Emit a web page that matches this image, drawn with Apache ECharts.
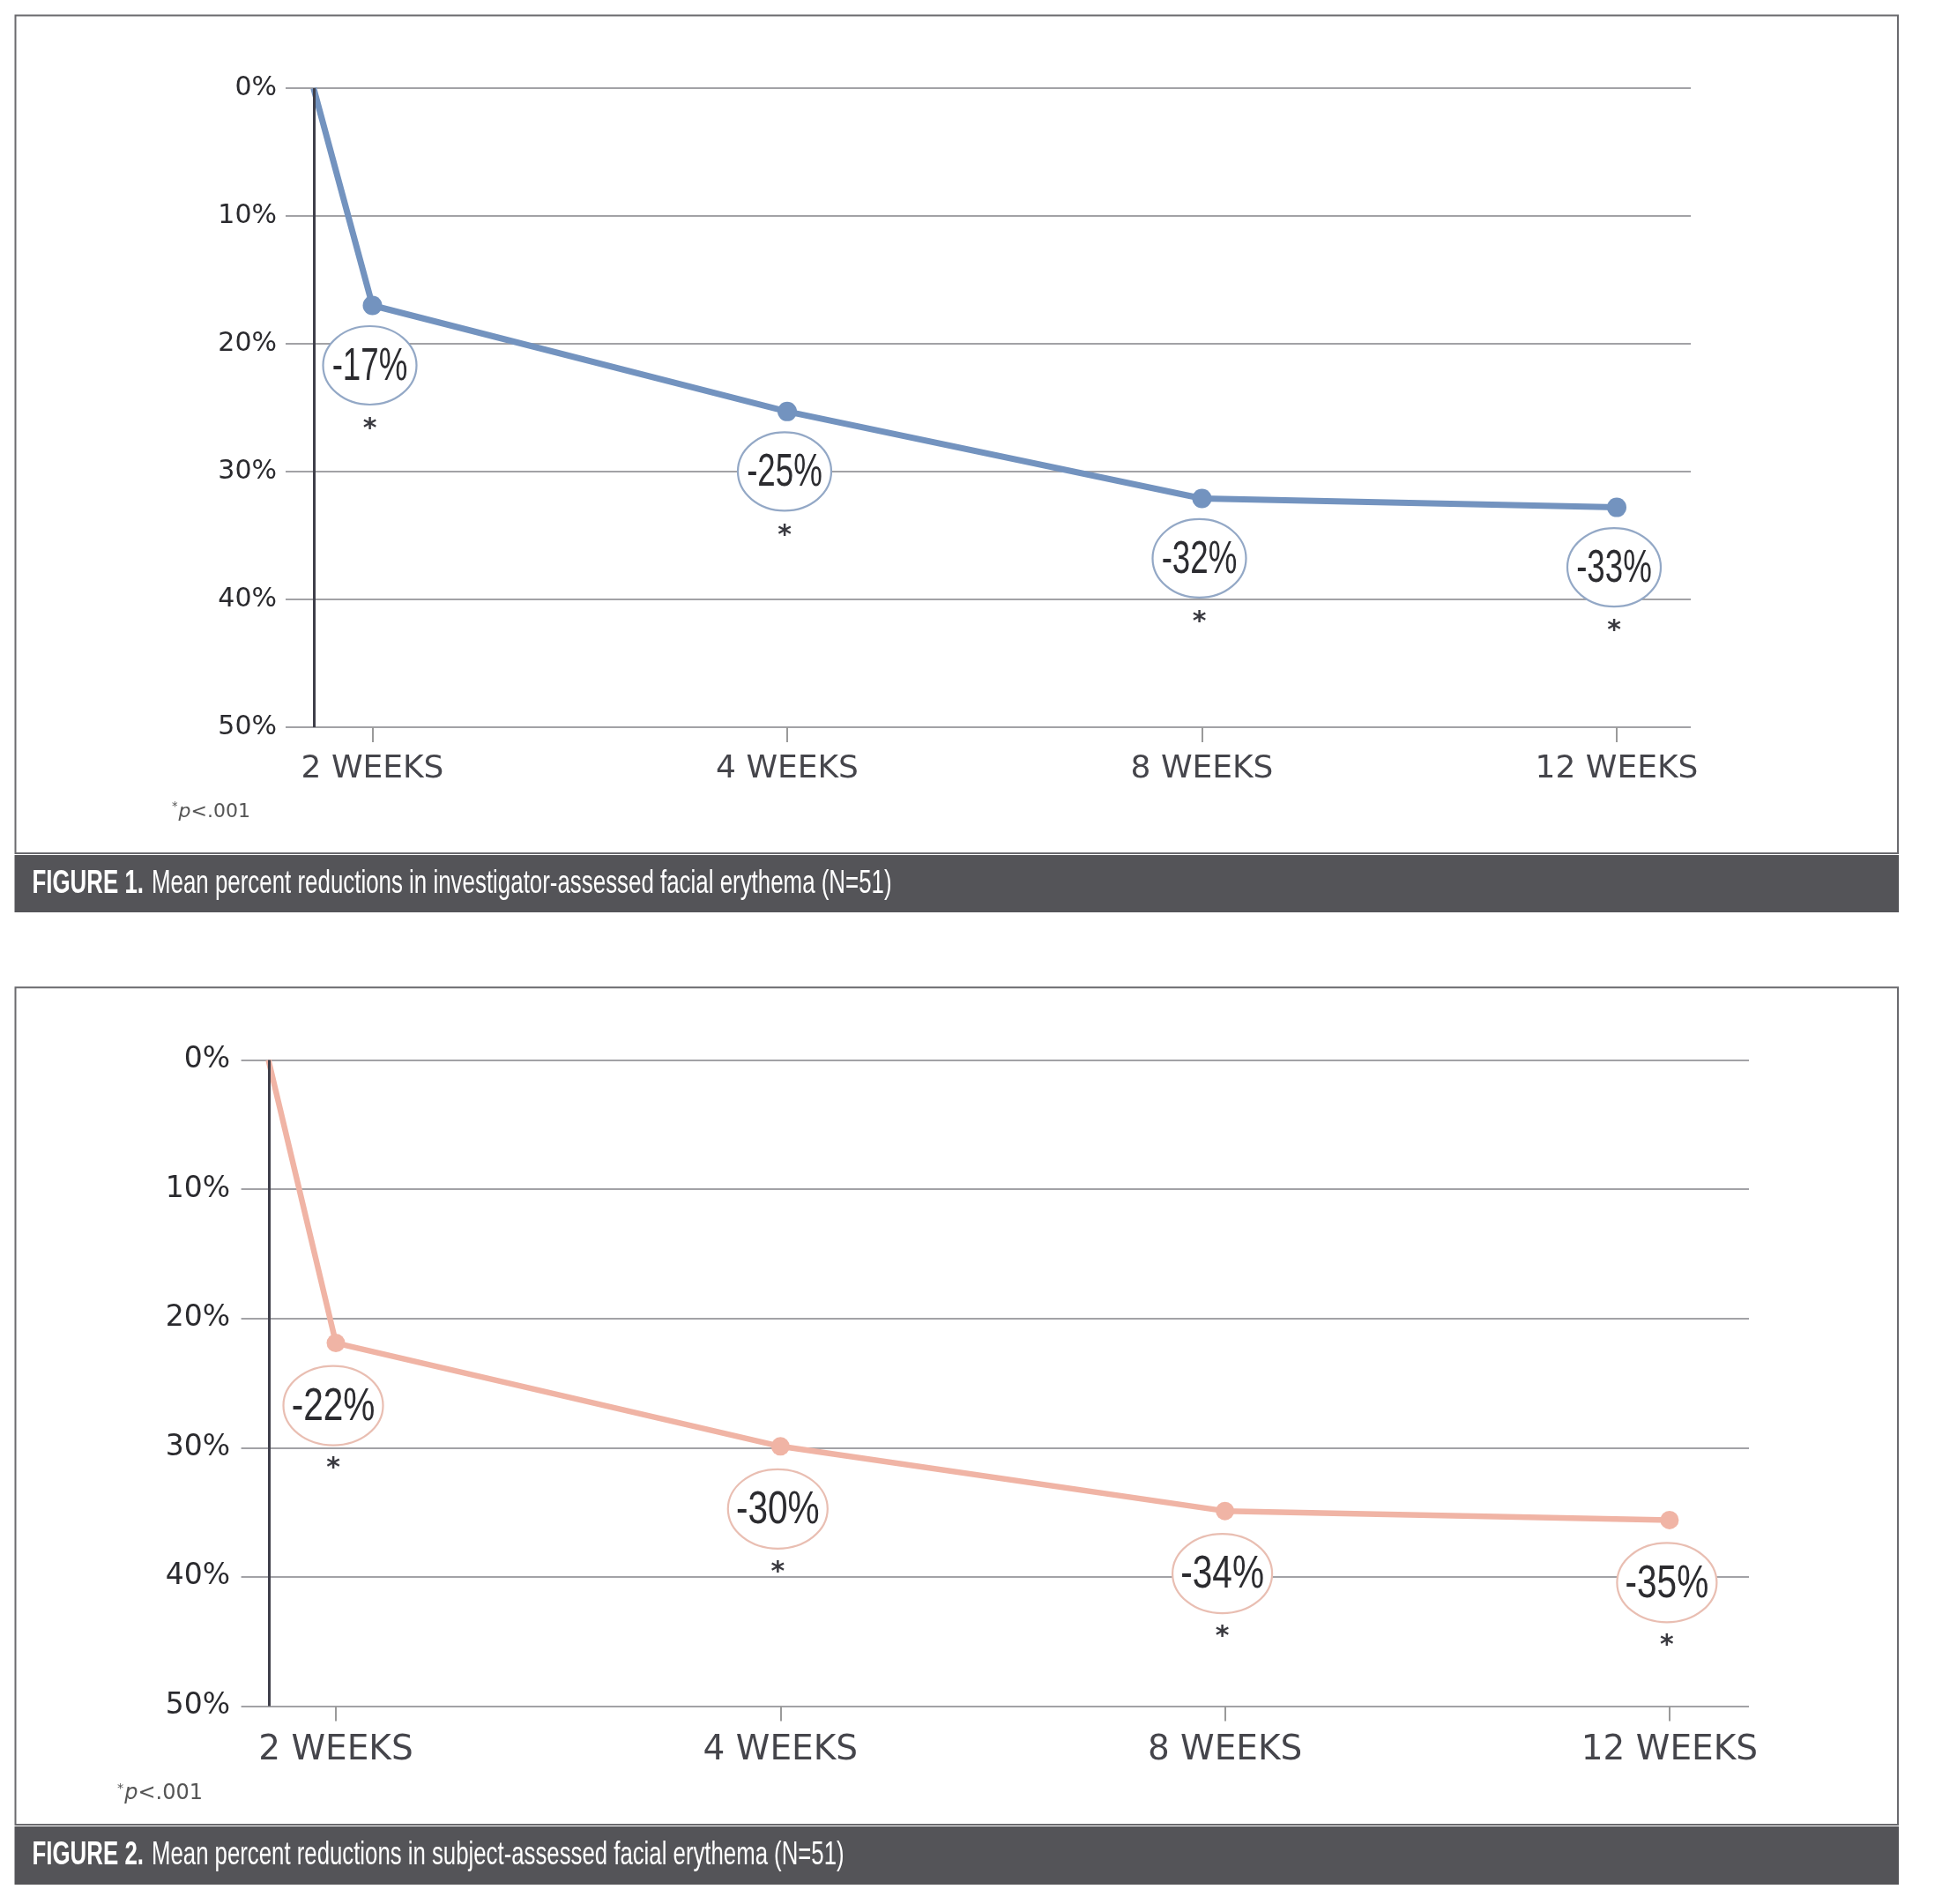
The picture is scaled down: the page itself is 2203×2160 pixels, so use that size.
<!DOCTYPE html>
<html><head><meta charset="utf-8">
<script src="https://cdn.jsdelivr.net/npm/echarts@6/dist/echarts.min.js"></script>
<style>html,body{margin:0;padding:0;background:#fff}#c{width:2203px;height:2160px}</style>
</head><body><div id="c"></div>
<script>
// ---- data ----
const categories = ['2 WEEKS', '4 WEEKS', '8 WEEKS', '12 WEEKS'];
const yTickValues = [0, 10, 20, 30, 40, 50];
const baselineValue = 0;
const fig1Values = [17.0, 25.3, 32.1, 32.8];
const fig1Labels = ['-17%', '-25%', '-32%', '-33%'];
const fig2Values = [21.9, 29.9, 34.9, 35.6];
const fig2Labels = ['-22%', '-30%', '-34%', '-35%'];
const fig1Caption = ['FIGURE 1.', 'Mean percent reductions in investigator-assessed facial erythema (N=51)'];
const fig2Caption = ['FIGURE 2.', 'Mean percent reductions in subject-assessed facial erythema (N=51)'];
const footnoteParts = ['*', 'p', '<.001'];
const significanceMark = '*';

// ---- layout (pixels) ----
const panels = [
  { values: fig1Values, labels: fig1Labels, caption: fig1Caption,
    frameTop: 17.5, frameBottom: 968, bandTop: 970, bandBottom: 1035,
    gridLeft: 324, gridRight: 1918, gridTop: 100, gridBottom: 825,
    cat0: 422.5, catStep: 470.5, originX: 355.7,
    yFont: 30, yMargin: 10, xFont: 36, xMargin: 30,
    lineColor: '#7393bf', lineWidth: 7, symbolSize: 22,
    ellColor: '#93a8c6', rx: 53, ry: 44.5, labelDx: -3, labelDy: 68, starDy: 133,
    txtFont: 51, txtScale: 0.72,
    capY: 1003, boldEnd: 163, textStart: 172, capEnd: 1011.6,
    footX: 195, footY: 921, footFont: 22 },
  { values: fig2Values, labels: fig2Labels, caption: fig2Caption,
    frameTop: 1120.3, frameBottom: 2070, bandTop: 2072, bandBottom: 2138,
    gridLeft: 273.6, gridRight: 1984, gridTop: 1202.5, gridBottom: 1935.5,
    cat0: 381, catStep: 504.3, originX: 304.5,
    yFont: 33, yMargin: 12.6, xFont: 39, xMargin: 31,
    lineColor: '#f0b4a5', lineWidth: 6.5, symbolSize: 21,
    ellColor: '#e9beb2', rx: 56.5, ry: 45, labelDx: -3, labelDy: 71, starDy: 135,
    txtFont: 52, txtScale: 0.78,
    capY: 2105, boldEnd: 163, textStart: 172, capEnd: 957.6,
    footX: 133, footY: 2035, footFont: 24 }
];
const W = 2203, H = 2160;
const FRAME_L = 17.5, FRAME_R = 2153;

const mctx = document.createElement('canvas').getContext('2d');
function measure(text, font) { mctx.font = font; return mctx.measureText(text).width; }

const grids = [], xAxes = [], yAxes = [], series = [], graphics = [];
panels.forEach((P, k) => {
  grids.push({ left: P.gridLeft, right: W - P.gridRight, top: P.gridTop, bottom: H - P.gridBottom, containLabel: false });
  const xmin = (P.gridLeft - P.cat0) / P.catStep;
  const xmax = (P.gridRight - P.cat0) / P.catStep;
  const originVal = (P.originX - P.cat0) / P.catStep;
  const idx = categories.map((c, i) => i);
  xAxes.push({
    type: 'value', gridIndex: k, min: xmin, max: xmax, position: 'bottom',
    axisLine: { show: false, onZero: false }, splitLine: { show: false },
    axisTick: { show: true, customValues: idx, length: 17, lineStyle: { color: '#9a9a9a', width: 2 } },
    axisLabel: { show: true, customValues: idx, margin: P.xMargin,
      formatter: v => categories[Math.round(v)] || '',
      fontFamily: 'DejaVu Sans', fontSize: P.xFont, color: '#45454b' }
  });
  yAxes.push({
    type: 'value', gridIndex: k, inverse: true, min: yTickValues[0], max: yTickValues[yTickValues.length - 1],
    interval: yTickValues[1] - yTickValues[0],
    axisLine: { show: false }, axisTick: { show: false },
    splitLine: { show: true, lineStyle: { color: '#a2a2a6', width: 2 } },
    axisLabel: { formatter: '{value}%', margin: P.yMargin, fontFamily: 'DejaVu Sans', fontSize: P.yFont, color: '#2a2a2e' }
  });
  const lineData = [{ value: [originVal, baselineValue], symbol: 'none' }]
    .concat(P.values.map((v, i) => ({ value: [i, v] })));
  series.push({
    type: 'line', xAxisIndex: k, yAxisIndex: k, data: lineData, z: 3,
    symbol: 'circle', symbolSize: P.symbolSize,
    lineStyle: { color: P.lineColor, width: P.lineWidth },
    itemStyle: { color: P.lineColor },
    silent: true, animation: false,
    markLine: { silent: true, symbol: ['none', 'none'], label: { show: false }, animation: false,
      lineStyle: { color: '#3f3f4a', width: 3, type: 'solid' },
      data: [{ xAxis: originVal }] }
  });
  series.push({
    type: 'custom', xAxisIndex: k, yAxisIndex: k, z: 5, silent: true, animation: false,
    data: P.values.map((v, i) => [i, v]),
    renderItem: (params, api) => {
      const p = api.coord([api.value(0), api.value(1)]);
      const cx = p[0] + P.labelDx, cy = p[1] + P.labelDy;
      return { type: 'group', children: [
        { type: 'ellipse', shape: { cx: cx, cy: cy, rx: P.rx, ry: P.ry },
          style: { fill: '#fff', stroke: P.ellColor, lineWidth: 2.2 } },
        { type: 'text', x: cx, y: cy + 2, scaleX: P.txtScale,
          style: { text: P.labels[params.dataIndex], fontFamily: 'Liberation Sans', fontSize: P.txtFont,
            fill: '#2c2c30', align: 'center', verticalAlign: 'middle' } },
        { type: 'text', x: cx, y: p[1] + P.starDy + 8,
          style: { text: significanceMark, fontFamily: 'DejaVu Sans', fontWeight: 'bold', fontSize: 30,
            fill: '#3a3a40', align: 'center', verticalAlign: 'middle' } }
      ] };
    }
  });
  // frame and caption band
  graphics.push({ type: 'rect', shape: { x: FRAME_L, y: P.frameTop, width: FRAME_R - FRAME_L, height: P.frameBottom - P.frameTop },
    style: { fill: '#fff', stroke: '#6a6a6e', lineWidth: 2 }, z: -10 });
  graphics.push({ type: 'rect', shape: { x: FRAME_L - 1, y: P.bandTop, width: FRAME_R - FRAME_L + 2, height: P.bandBottom - P.bandTop },
    style: { fill: '#545458' }, z: -9 });
  const capSize = 37;
  const boldFont = 'bold ' + capSize + 'px "Liberation Sans"';
  const regFont = capSize + 'px "Liberation Sans"';
  const bsx = (P.boldEnd - 36.5) / measure(P.caption[0], boldFont);
  const rsx = (P.capEnd - P.textStart) / measure(P.caption[1], regFont);
  graphics.push({ type: 'text', x: 36.5, y: P.capY, scaleX: bsx, z: 10,
    style: { text: P.caption[0], fontFamily: 'Liberation Sans', fontWeight: 'bold', fontSize: capSize, fill: '#fff', verticalAlign: 'middle' } });
  graphics.push({ type: 'text', x: P.textStart, y: P.capY, scaleX: rsx, z: 10,
    style: { text: P.caption[1], fontFamily: 'Liberation Sans', fontSize: capSize, fill: '#fff', verticalAlign: 'middle' } });
  // footnote
  graphics.push({ type: 'text', x: P.footX, y: P.footY, z: 10,
    style: { text: '{s|' + footnoteParts[0] + '}{i|' + footnoteParts[1] + '}{r|' + footnoteParts[2] + '}',
      verticalAlign: 'middle',
      rich: {
        s: { fontFamily: 'DejaVu Sans', fontSize: P.footFont * 0.6, fill: '#555', verticalAlign: 'top', padding: [0, 1, P.footFont * 0.5, 0] },
        i: { fontFamily: 'DejaVu Sans', fontStyle: 'italic', fontSize: P.footFont, fill: '#555' },
        r: { fontFamily: 'DejaVu Sans', fontSize: P.footFont, fill: '#555' }
      } } });
});

const chart = echarts.init(document.getElementById('c'), null, { renderer: 'canvas' });
chart.setOption({
  backgroundColor: '#fff',
  animation: false,
  grid: grids, xAxis: xAxes, yAxis: yAxes, series: series,
  graphic: { elements: graphics }
});
</script></body></html>
